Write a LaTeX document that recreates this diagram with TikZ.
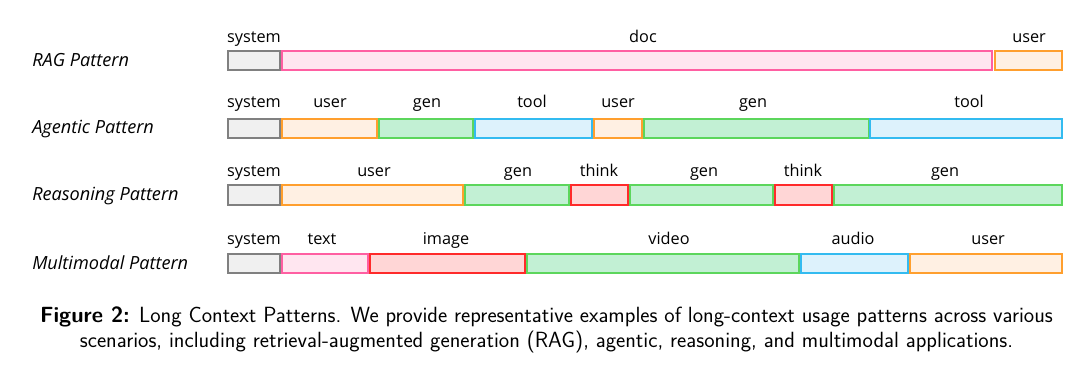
\documentclass[tikz,border=0pt]{standalone}
\usepackage{fontspec}
\setmainfont{Open Sans}
\newfontfamily\capfont{Latin Modern Sans}
\definecolor{sysF}{HTML}{F0F0F0}\definecolor{sysD}{HTML}{808080}
\definecolor{pinkF}{HTML}{FFE6F0}\definecolor{pinkD}{HTML}{FF5FA2}
\definecolor{oraF}{HTML}{FFF0E3}\definecolor{oraD}{HTML}{FF9F2E}
\definecolor{grnF}{HTML}{C2F0D4}\definecolor{grnD}{HTML}{5CD65C}
\definecolor{bluF}{HTML}{DDF2FC}\definecolor{bluD}{HTML}{33BBF0}
\definecolor{redF}{HTML}{FFD6D6}\definecolor{redD}{HTML}{FF2A2A}
\newcommand\seg[6]{\node[segbox,#2,minimum width={(#4-#3)*0.75pt},minimum height={(#6-#5)*0.75pt}] (#1) at (#3,#5) {};}
\tikzset{
  segbox/.style={draw,line width=1pt,inner sep=0pt,outer sep=0pt,anchor=north west},
  sys/.style={fill=sysF,draw=sysD},
  pnk/.style={fill=pinkF,draw=pinkD},
  ora/.style={fill=oraF,draw=oraD},
  grn/.style={fill=grnF,draw=grnD},
  blu/.style={fill=bluF,draw=bluD},
  red/.style={fill=redF,draw=redD},
  lab/.style={font=\fontsize{12.2}{14}\selectfont,anchor=base,inner sep=0pt},
  rowlab/.style={font=\fontsize{13.6}{16}\selectfont\itshape,anchor=base west,inner sep=0pt},
}
\begin{document}
\begin{tikzpicture}[x=0.75pt,y=-0.75pt]
\useasboundingbox[fill=white] (0,0) rectangle (1080,378);
% RAG
\node[rowlab] (rag) at (32,66) {RAG Pattern};
\seg{r1s}{sys}{228}{280}{51}{70}
\seg{r1d}{pnk}{282}{992}{51}{70}
\seg{r1u}{ora}{995}{1062}{51}{70}
\node[lab] (r1sl) at (254,43) {system};
\node[lab] (r1dl) at (643,43) {doc};
\node[lab] (r1ul) at (1029,43) {user};
% Agentic
\node[rowlab] (agt) at (32,133) {Agentic Pattern};
\seg{r2s}{sys}{228}{280}{119}{138}
\seg{r2u}{ora}{282}{377}{119}{138}
\seg{r2g}{grn}{379}{473}{119}{138}
\seg{r2t}{blu}{475}{592}{119}{138}
\seg{r2v}{ora}{594}{642}{119}{138}
\seg{r2h}{grn}{644}{869}{119}{138}
\seg{r2w}{blu}{870}{1062}{119}{138}
\node[lab] (r2sl) at (254,108) {system};
\node[lab] (r2ul) at (330,108) {user};
\node[lab] (r2gl) at (427,108) {gen};
\node[lab] (r2tl) at (532,108) {tool};
\node[lab] (r2vl) at (618,108) {user};
\node[lab] (r2hl) at (753,108) {gen};
\node[lab] (r2wl) at (969,108) {tool};
% Reasoning
\node[rowlab] (rsn) at (32,200) {Reasoning Pattern};
\seg{r3s}{sys}{228}{280}{185}{205}
\seg{r3u}{ora}{282}{463}{185}{205}
\seg{r3g}{grn}{465}{569}{185}{205}
\seg{r3t}{red}{571}{628}{185}{205}
\seg{r3h}{grn}{630}{773}{185}{205}
\seg{r3k}{red}{775}{832}{185}{205}
\seg{r3i}{grn}{834}{1062}{185}{205}
\node[lab] (r3sl) at (254,176) {system};
\node[lab] (r3ul) at (374,176) {user};
\node[lab] (r3gl) at (518,176) {gen};
\node[lab] (r3tl) at (599,176) {think};
\node[lab] (r3hl) at (704,176) {gen};
\node[lab] (r3kl) at (803,176) {think};
\node[lab] (r3il) at (945,176) {gen};
% Multimodal
\node[rowlab] (mm) at (32,269) {Multimodal Pattern};
\seg{r4s}{sys}{228}{280}{254}{273}
\seg{r4t}{pnk}{282}{368}{254}{273}
\seg{r4i}{red}{370}{525}{254}{273}
\seg{r4v}{grn}{527}{799}{254}{273}
\seg{r4a}{blu}{801}{908}{254}{273}
\seg{r4u}{ora}{910}{1062}{254}{273}
\node[lab] (r4sl) at (254,244) {system};
\node[lab] (r4tl) at (322,244) {text};
\node[lab] (r4il) at (446,244) {image};
\node[lab] (r4vl) at (669,244) {video};
\node[lab] (r4al) at (853,244) {audio};
\node[lab] (r4ul) at (988,244) {user};
% caption
\node[font=\capfont\fontsize{16.5}{18.2}\selectfont,align=center,anchor=base,inner sep=0pt] (cap) at (546.5,347)
 {{\bfseries Figure 2:} Long Context Patterns. We provide representative examples of long-context usage patterns across various\\
 scenarios, including retrieval-augmented generation (RAG), agentic, reasoning, and multimodal applications.};
\end{tikzpicture}
\end{document}
